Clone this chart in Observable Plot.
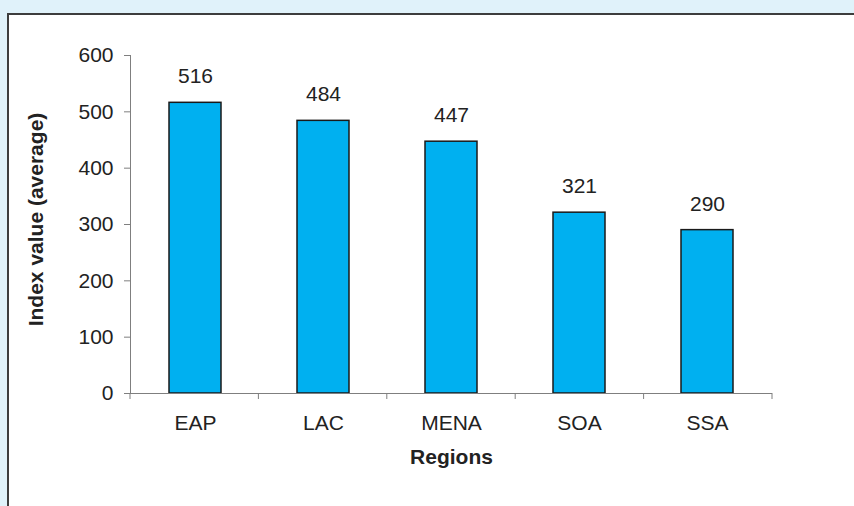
<!DOCTYPE html>
<html>
<head>
<meta charset="utf-8">
<script src="https://cdn.jsdelivr.net/npm/d3@7"></script>
<script src="https://cdn.jsdelivr.net/npm/@observablehq/plot@0.6"></script>
<style>
  html, body { margin: 0; padding: 0; width: 854px; height: 506px; overflow: hidden; background: #e0f2fa; }
  #box { position: absolute; left: 7px; top: 13px; width: 900px; height: 560px; background: #ffffff;
         border-left: 2px solid #3d3d3d; border-top: 2px solid #3d3d3d; }
  #chart { position: absolute; left: 0; top: 0; }
</style>
</head>
<body>
<div id="box"></div>
<div id="chart"></div>
<script>
const regions = ["EAP", "LAC", "MENA", "SOA", "SSA"];
const values = [516, 484, 447, 321, 290];
const yTicks = [0, 100, 200, 300, 400, 500, 600];
const yTitle = "Index value (average)";
const xTitle = "Regions";

const data = regions.map((r, i) => ({region: r, value: values[i]}));

function boundaryTicks(index, scales, vals, dims) {
  const n = regions.length;
  const left = dims.marginLeft;
  const right = dims.width - dims.marginRight;
  const step = (right - left) / n;
  const y0 = scales.y(0);
  const g = d3.create("svg:g").attr("stroke", "#7f7f7f").attr("stroke-width", 1);
  for (let i = 0; i <= n; i++) {
    const x = left + i * step;
    g.append("line").attr("x1", x).attr("x2", x).attr("y1", y0).attr("y2", y0 + 6);
  }
  return g.node();
}

const chart = Plot.plot({
  width: 854,
  height: 506,
  marginLeft: 130,
  marginRight: 82,
  marginTop: 55,
  marginBottom: 113,
  style: {background: "transparent", fontFamily: "'Liberation Sans', Arial, sans-serif", color: "#222"},
  x: {domain: regions, paddingInner: 0.59, paddingOuter: 0.295, label: null},
  y: {domain: [0, 600], label: null},
  marks: [
    Plot.barY(data, {x: "region", y: "value", fill: "#00b0f0", stroke: "#1a1a1a", strokeWidth: 1.5}),
    Plot.ruleY([0], {stroke: "#7f7f7f"}),
    Plot.frame({anchor: "left", stroke: "#7f7f7f"}),
    boundaryTicks,
    Plot.axisY({ticks: yTicks, tickSize: 6, tickPadding: 11, fontSize: 21, stroke: "#7f7f7f", fill: "#222", label: null}),
    Plot.axisX({tickSize: 0, tickPadding: 22, fontSize: 21, fill: "#222", label: null}),
    Plot.text(data, {x: "region", y: "value", text: d => String(d.value), lineAnchor: "bottom", dy: -19.5, fontSize: 21, fill: "#222"}),
    Plot.text([yTitle], {frameAnchor: "left", textAnchor: "middle", dx: -94.5, dy: -5, rotate: -90, fontSize: 21, fontWeight: "bold", fill: "#222"}),
    Plot.text([xTitle], {frameAnchor: "bottom", dy: 70, fontSize: 21, fontWeight: "bold", fill: "#222"})
  ]
});
document.getElementById("chart").appendChild(chart);
</script>
</body>
</html>
